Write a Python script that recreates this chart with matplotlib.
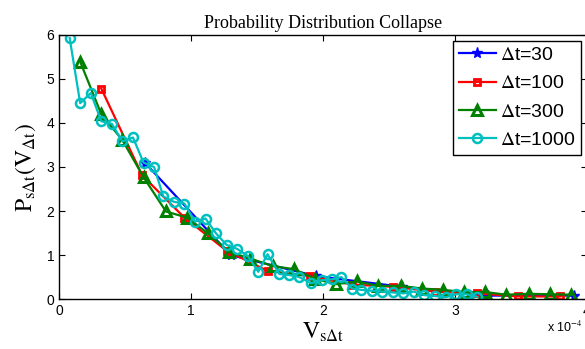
import matplotlib
matplotlib.use('Agg')
import matplotlib.pyplot as plt

# x values are in units of 1e-4
x30 = [0.65, 1.30, 1.95, 2.60, 3.25, 3.90]
y30 = [3.10, 1.00, 0.52, 0.28, 0.08, 0.08]

x100 = [0.32, 0.63, 0.95, 1.27, 1.58, 1.90, 2.22, 2.53, 2.85, 3.17, 3.48, 3.80]
y100 = [4.78, 2.81, 1.85, 1.10, 0.64, 0.52, 0.33, 0.28, 0.17, 0.13, 0.06, 0.06]

x300 = [0.16, 0.32, 0.48, 0.64, 0.81, 0.97, 1.13, 1.29, 1.45, 1.62, 1.78, 1.94,
        2.10, 2.26, 2.42, 2.59, 2.75, 2.91, 3.07, 3.23, 3.39, 3.56, 3.72, 3.88]
y300 = [5.39, 4.20, 3.61, 2.77, 1.99, 1.85, 1.49, 1.07, 0.92, 0.75, 0.68, 0.46,
        0.34, 0.40, 0.30, 0.30, 0.24, 0.21, 0.16, 0.16, 0.10, 0.12, 0.11, 0.10]

x1000 = [0.08, 0.16, 0.24, 0.32, 0.40, 0.48, 0.56, 0.64, 0.72, 0.79, 0.87, 0.95,
         1.03, 1.11, 1.19, 1.27, 1.35, 1.43, 1.51, 1.58, 1.67, 1.74, 1.82, 1.91,
         1.99, 2.07, 2.14, 2.22, 2.29, 2.37, 2.45, 2.53, 2.61, 2.69, 2.77, 2.85,
         2.93, 3.01, 3.09, 3.17]
y1000 = [5.93, 4.45, 4.68, 4.04, 3.98, 3.58, 3.67, 3.10, 3.00, 2.33, 2.21, 2.17,
         1.76, 1.83, 1.49, 1.23, 1.14, 0.98, 0.62, 1.02, 0.57, 0.55, 0.50, 0.36,
         0.43, 0.45, 0.50, 0.24, 0.21, 0.19, 0.17, 0.15, 0.13, 0.17, 0.09, 0.07,
         0.04, 0.11, 0.11, 0.05]

plt.rcParams['font.family'] = 'Liberation Sans'
plt.rcParams['mathtext.fontset'] = 'stix'

fig = plt.figure(figsize=[5.85, 3.49], dpi=100)
ax = fig.add_axes([0.101, 0.143, 0.902, 0.757])

ax.plot(x30, y30, color='b', lw=1.6, marker='*', ms=8, label=r'$\Delta$t=30')
ax.plot(x100, y100, color='r', lw=1.6, marker='s', ms=5, mfc='none', mew=2, label=r'$\Delta$t=100')
ax.plot(x300, y300, color=(0, 0.5, 0), lw=1.6, marker='^', ms=7, mfc='none', mew=2.2, label=r'$\Delta$t=300')
ax.plot(x1000, y1000, color=(0, 0.75, 0.75), lw=1.6, marker='o', ms=6.5, mfc='none', mew=1.8, label=r'$\Delta$t=1000')

ax.set_xlim(0, 4)
ax.set_ylim(0, 6)
ax.set_xticks([0, 1, 2, 3, 4])
ax.set_yticks([0, 1, 2, 3, 4, 5, 6])
ax.tick_params(direction='in', top=True, right=True, labelsize=10, length=4)
for s in ax.spines.values():
    s.set_linewidth(1.0)

ax.set_title('Probability Distribution Collapse', family='Liberation Serif', fontsize=13, pad=5)
ax.set_xlabel(r'$\mathrm{V}_{\mathrm{s}\Delta\mathrm{t}}$', fontsize=17, labelpad=2)
ax.set_ylabel(r'$\mathrm{P}_{\mathrm{s}\Delta\mathrm{t}}(\mathrm{V}_{\Delta\mathrm{t}})$', fontsize=17, labelpad=6)
fig.text(0.935, 0.05, r'x 10$^{-4}$', fontsize=9)

leg = ax.legend(loc='upper right', fontsize=14, handlelength=1.9, handletextpad=0.2,
                labelspacing=0.55, borderpad=0.3, borderaxespad=0.3, fancybox=False,
                framealpha=1, edgecolor='black')
leg.get_frame().set_linewidth(1.0)

plt.savefig('out.png', dpi=100)
